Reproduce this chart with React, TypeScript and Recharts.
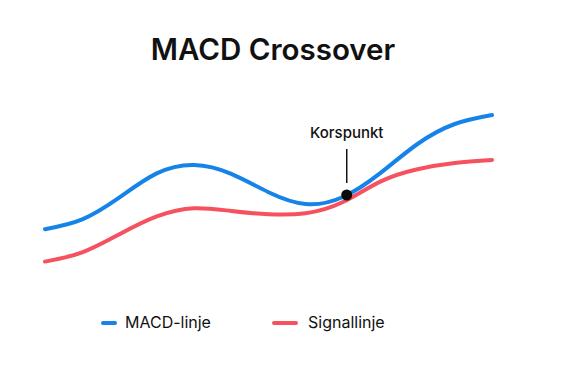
import React from 'react';
import { LineChart, Line, XAxis, YAxis, ReferenceDot } from 'recharts';

const xs = [0, 1, 2, 3, 4, 5, 6, 7, 8, 9, 10, 11, 12];
const macdValues = [25.4, 30.3, 41.3, 53.3, 57.5, 53.1, 43.9, 38, 41.5, 53.4, 68, 78, 82.5];
const signalValues = [9.2, 13.8, 22.9, 31.8, 35.9, 34.5, 32.9, 33.4, 39, 49.2, 55.4, 58.5, 60];
const seriesNames = ['MACD-linje', 'Signallinje'];
const crossX = 8.1;
const crossY = 42.5;
const crossLabel = 'Korspunkt';
const title = 'MACD Crossover';

const BLUE = '#1683E8';
const RED = '#F5515F';
const FONT = 'Inter, "Noto Sans", sans-serif';

const data = xs.map((x, i) => ({ x, macd: macdValues[i], signal: signalValues[i] }));

const CrossShape = (props: any) => {
  const { cx, cy } = props;
  return (
    <g>
      <line x1={cx} x2={cx} y1={cy - 46} y2={cy - 12} stroke="#111" strokeWidth={1.5} />
      <circle cx={cx} cy={cy} r={5.5} fill="#0b0b0b" />
      <text x={cx} y={cy - 57} textAnchor="middle" fontFamily={FONT} fontSize={15} fontWeight={500} fill="#111">
        {crossLabel}
      </text>
    </g>
  );
};

const LegendBlock = () => (
  <div style={{ position: 'absolute', left: 0, top: 308, width: 570, height: 30, fontFamily: FONT, fontSize: 16, color: '#111' }}>
    <div style={{ position: 'absolute', left: 101, top: 13, width: 16, height: 4, borderRadius: 2, background: BLUE }} />
    <div style={{ position: 'absolute', left: 125, top: 4 }}>{seriesNames[0]}</div>
    <div style={{ position: 'absolute', left: 272, top: 13, width: 26, height: 4, borderRadius: 2, background: RED }} />
    <div style={{ position: 'absolute', left: 308, top: 4 }}>{seriesNames[1]}</div>
  </div>
);

export default function App() {
  return (
    <div style={{ position: 'absolute', left: 0, top: 0, width: 570, height: 376, background: '#fff' }}>
      <LineChart width={570} height={376} data={data} margin={{ top: 80, right: 78, bottom: 96, left: 45 }}>
        <XAxis dataKey="x" type="number" domain={[0, 12]} hide />
        <YAxis type="number" domain={[0, 100]} hide />
        <Line type="natural" dataKey="signal" name={seriesNames[1]} stroke={RED} strokeWidth={4} dot={false} isAnimationActive={false} strokeLinecap="round" />
        <Line type="natural" dataKey="macd" name={seriesNames[0]} stroke={BLUE} strokeWidth={4} dot={false} isAnimationActive={false} strokeLinecap="round" />
        <ReferenceDot x={crossX} y={crossY} r={5} shape={CrossShape} ifOverflow="visible" />
      </LineChart>
      <div
        style={{
          position: 'absolute', left: 0, top: 32, width: 546, textAlign: 'center',
          fontFamily: FONT, fontSize: 29.5, fontWeight: 600, color: '#111', lineHeight: '34px',
        }}
      >
        {title}
      </div>
      <LegendBlock />
    </div>
  );
}
